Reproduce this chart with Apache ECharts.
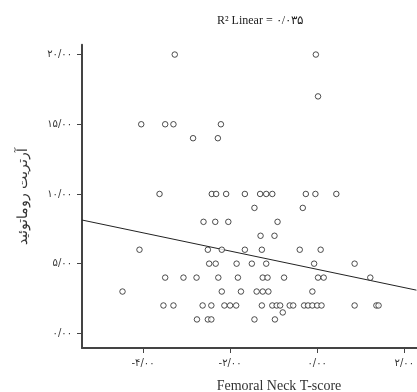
<!DOCTYPE html>
<html>
<head>
<meta charset="utf-8">
<script src="https://cdn.jsdelivr.net/npm/echarts@6/dist/echarts.min.js"></script>
<style>html,body{margin:0;padding:0;background:#fff}#c{width:417px;height:392px}</style>
</head>
<body>
<div id="c"></div>
<script>
// Scatter points: Femoral Neck T-score (x) vs rheumatoid arthritis score (y)
const pointsX = [
  -3.27, -0.03,
  0.02,
  -4.04, -3.49, -3.30, -2.21,
  -2.85, -2.28,
  -3.62, -2.42, -2.32, -2.09, -1.66, -1.31, -1.17, -1.03, -0.26, -0.04, 0.44,
  -1.44, -0.33,
  -2.61, -2.34, -2.04, -0.91,
  -1.30, -0.98,
  -4.08, -2.51, -2.19, -1.66, -1.27, -0.40, 0.08,
  -2.48, -2.33, -1.85, -1.50, -1.17, -0.07, 0.86,
  -3.49, -3.07, -2.77, -2.27, -1.82, -1.25, -1.14, -0.76, 0.02, 0.15, 1.22,
  -4.47, -2.19, -1.75, -1.39, -1.25, -1.12, -0.11,
  -3.53, -3.30, -2.63, -2.43, -2.13, -2.00, -1.86, -1.27, -1.03, -0.93, -0.85, -0.63, -0.55, -0.30, -0.21, -0.11, 0.00, 0.10, 0.86, 1.36, 1.41,
  -0.79,
  -2.76, -2.51, -2.43, -1.44, -0.97
];
const pointsY = [
  20, 20,
  17,
  15, 15, 15, 15,
  14, 14,
  10, 10, 10, 10, 10, 10, 10, 10, 10, 10, 10,
  9, 9,
  8, 8, 8, 8,
  7, 7,
  6, 6, 6, 6, 6, 6, 6,
  5, 5, 5, 5, 5, 5, 5,
  4, 4, 4, 4, 4, 4, 4, 4, 4, 4, 4,
  3, 3, 3, 3, 3, 3, 3,
  2, 2, 2, 2, 2, 2, 2, 2, 2, 2, 2, 2, 2, 2, 2, 2, 2, 2, 2, 2, 2,
  1.5,
  1, 1, 1, 1, 1
];
// Fit line (R² Linear = 0.035), end points
const fitX = [-5.4, 2.28];
const fitY = [8.13, 3.10];
// Ticks
const xTicks = [-4, -2, 0, 2];
const xTickLabels = ['-۴/۰۰', '-۲/۰۰', '۰/۰۰', '۲/۰۰'];
const yTicks = [0, 5, 10, 15, 20];
const yTickLabels = ['۰/۰۰', '۵/۰۰', '۱۰/۰۰', '۱۵/۰۰', '۲۰/۰۰'];
const titleText = 'R² Linear = ۰/۰۳۵';
const xName = 'Femoral Neck T-score';
const yName = 'آرتریت روماتوئید';

const scatterData = pointsX.map((x, i) => [x, pointsY[i]]);
const fitData = fitX.map((x, i) => [x, fitY[i]]);

const chart = echarts.init(document.getElementById('c'), null, {renderer: 'canvas'});
chart.setOption({
  animation: false,
  backgroundColor: '#fff',
  title: [
    {text: titleText, left: 255, top: 10, textAlign: 'center',
     textStyle: {fontFamily: 'Liberation Serif', fontSize: 12, fontWeight: 'normal', color: '#222'}},
    {text: xName, left: 274, top: 374, textAlign: 'center',
     textStyle: {fontFamily: 'Liberation Serif', fontSize: 14, fontWeight: 'normal', color: '#333'}}
  ],
  grid: {left: 82, right: 0, top: 44.8, bottom: 44, containLabel: false},
  xAxis: {
    type: 'value', min: -5.4, max: 2.28,
    splitLine: {show: false},
    axisLine: {show: true, onZero: false, lineStyle: {color: '#444', width: 2}},
    axisTick: {show: true, length: 5, customValues: xTicks, lineStyle: {color: '#444', width: 1}},
    axisLabel: {customValues: xTicks, margin: 10, fontFamily: 'DejaVu Sans', fontSize: 10, color: '#333',
      formatter: v => xTickLabels[xTicks.indexOf(Math.round(v))] || ''}
  },
  yAxis: {
    type: 'value', min: -1.05, max: 20.7,
    name: yName, nameLocation: 'middle', nameRotate: 90, nameGap: 52,
    nameTextStyle: {fontFamily: 'DejaVu Serif', fontSize: 14, color: '#333'},
    splitLine: {show: false},
    axisLine: {show: true, onZero: false, lineStyle: {color: '#444', width: 2}},
    axisTick: {show: true, length: 5, customValues: yTicks, lineStyle: {color: '#444', width: 1}},
    axisLabel: {customValues: yTicks, margin: 10, fontFamily: 'DejaVu Sans', fontSize: 10, color: '#333',
      formatter: v => yTickLabels[yTicks.indexOf(Math.round(v))] || ''}
  },
  series: [
    {type: 'line', data: fitData, showSymbol: false, silent: true,
     lineStyle: {color: '#222', width: 1}, z: 1},
    {type: 'scatter', data: scatterData, symbol: 'circle', symbolSize: 5.5,
     itemStyle: {color: '#fff', borderColor: '#222', borderWidth: 1}, silent: true, z: 2}
  ]
});
</script>
</body>
</html>
